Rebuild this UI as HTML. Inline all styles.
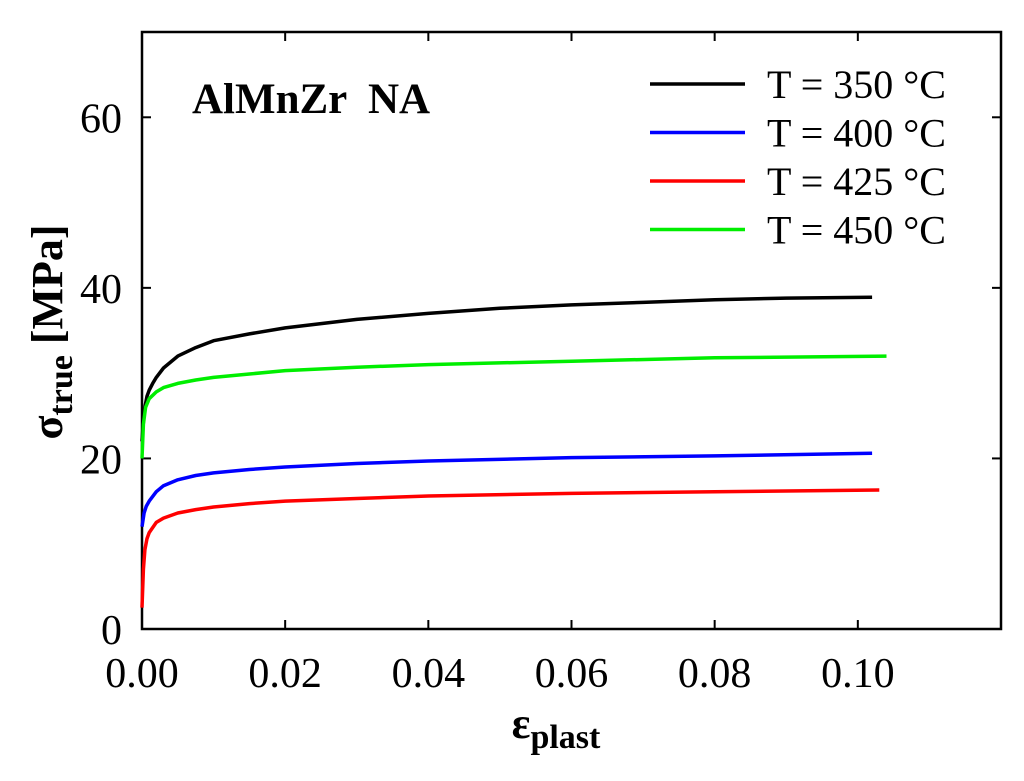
<!DOCTYPE html>
<html><head><meta charset="utf-8"><style>
body{margin:0;background:#fff}
svg text{font-family:"Liberation Serif",serif}
</style></head><body>
<svg id="chart" width="1024" height="776" viewBox="0 0 1024 776">
<g id="axes"></g><g id="series"></g>
<text x="192" y="113" font-size="43" font-weight="bold" style="white-space:pre">AlMnZr  NA</text>
<g id="legend"></g>
<text transform="translate(62,332) rotate(-90)" text-anchor="middle" font-size="44" font-weight="bold">σ<tspan font-size="34" dy="10">true</tspan><tspan dy="-10"> [MPa]</tspan></text>
<text x="556" y="738" text-anchor="middle" font-size="44" font-weight="bold">ε<tspan font-size="34" dy="10">plast</tspan></text>
</svg>
<script>
const xTicks=[0,0.02,0.04,0.06,0.08,0.10];
const xTickLabels=["0.00","0.02","0.04","0.06","0.08","0.10"];
const yTicks=[0,20,40,60];
const yTickLabels=["0","20","40","60"];
const seriesNames=["T = 350 °C","T = 400 °C","T = 425 °C","T = 450 °C"];
const seriesColors=["#000000","#0000ff","#ff0000","#00ee00"];
const xs350=[0,0.0003,0.0007,0.001,0.0015,0.002,0.003,0.005,0.0075,0.01,0.015,0.02,0.03,0.04,0.05,0.06,0.07,0.08,0.09,0.102];
const ys350=[22,25.5,27.3,28,28.8,29.5,30.6,32,33,33.8,34.6,35.3,36.3,37,37.6,38,38.3,38.6,38.8,38.9];
const xs400=[0,0.0003,0.0006,0.001,0.002,0.003,0.005,0.0075,0.01,0.015,0.02,0.03,0.04,0.06,0.08,0.102];
const ys400=[12,13.6,14.4,15,16.1,16.8,17.5,18,18.3,18.7,19,19.4,19.7,20.1,20.3,20.6];
const xs425=[0,0.0002,0.0004,0.0007,0.001,0.002,0.003,0.005,0.0075,0.01,0.015,0.02,0.03,0.04,0.06,0.08,0.103];
const ys425=[2.5,7,9.3,10.6,11.3,12.5,13,13.6,14,14.3,14.7,15,15.3,15.6,15.9,16.1,16.3];
const xs450=[0,0.0002,0.0005,0.001,0.002,0.003,0.005,0.0075,0.01,0.015,0.02,0.03,0.04,0.06,0.08,0.104];
const ys450=[20,24,26,27,27.8,28.3,28.8,29.2,29.5,29.9,30.3,30.7,31,31.4,31.8,32];
const NS="http://www.w3.org/2000/svg";
const L=142,R=1001,T=32,B=629,XMAX=0.12,YMAX=70;
const sx=v=>L+v/XMAX*(R-L), sy=v=>B-v/YMAX*(B-T);
function mk(tag,attrs,parent){const e=document.createElementNS(NS,tag);for(const k in attrs)e.setAttribute(k,attrs[k]);parent.appendChild(e);return e;}
const axes=document.getElementById('axes');
const frame=mk('rect',{x:L,y:T,width:R-L,height:B-T,fill:'none',stroke:'#000','stroke-width':2.5},axes);


xTicks.forEach((v,i)=>{
 const x=sx(v);
 mk('line',{x1:x,x2:x,y1:B,y2:B-9,stroke:'#000','stroke-width':2},axes);
 mk('line',{x1:x,x2:x,y1:T,y2:T+9,stroke:'#000','stroke-width':2},axes);
 const t=mk('text',{x:x,y:B+58,'text-anchor':'middle','font-size':42},axes);
 t.textContent=xTickLabels[i];
 
 
});
yTicks.forEach((v,i)=>{
 const y=sy(v);
 mk('line',{x1:L,x2:L+9,y1:y,y2:y,stroke:'#000','stroke-width':2},axes);
 mk('line',{x1:R,x2:R-9,y1:y,y2:y,stroke:'#000','stroke-width':2},axes);
 const t=mk('text',{x:L-20,y:y+15,'text-anchor':'end','font-size':42},axes);
 t.textContent=yTickLabels[i];
 
 
});
const data=[[xs350,ys350],[xs400,ys400],[xs425,ys425],[xs450,ys450]];
const sg=document.getElementById('series');
const names=['series-350c','series-400c','series-425c','series-450c'];
data.forEach((d,k)=>{
 const pts=d[0].map((x,i)=>sx(x).toFixed(1)+','+sy(d[1][i]).toFixed(1)).join(' ');
 const p=mk('polyline',{points:pts,fill:'none',stroke:seriesColors[k],'stroke-width':3.5,'stroke-linejoin':'round'},sg);
 
 
});
const lg=document.getElementById('legend');
seriesNames.forEach((n,k)=>{
 const y=84+k*48.5;
 const g=mk('g',{},lg);
 
 
 mk('line',{x1:650,x2:745,y1:y,y2:y,stroke:seriesColors[k],'stroke-width':3.5},g);
 const t=mk('text',{x:767,y:y+14,'font-size':40},g);
 t.textContent=n;
});
</script>
</body></html>
